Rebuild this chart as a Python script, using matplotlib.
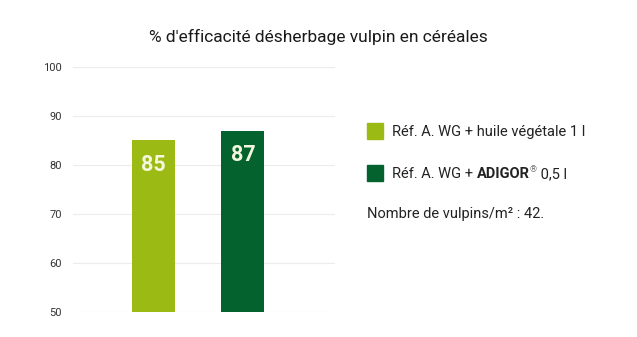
import matplotlib
matplotlib.use("Agg")
import matplotlib.pyplot as plt
from matplotlib.patches import Rectangle

plt.rcParams['font.family'] = ['Roboto', 'DejaVu Sans']

title = "% d'efficacité désherbage vulpin en céréales"
series_labels = ["Réf. A. WG + huile végétale 1 l", "Réf. A. WG + ADIGOR® 0,5 l"]
values = [85, 87]
colors = ["#9bbb14", "#04622e"]
yticks = [50, 60, 70, 80, 90, 100]
note = "Nombre de vulpins/m² : 42."

fig = plt.figure(figsize=(6.37, 3.37), dpi=100)
ax = fig.add_axes([73/637, 1 - 312/337, 262/637, 245/337])

positions = list(range(len(values)))
bars = ax.bar(positions, values, width=0.48, color=colors, zorder=2)
ax.set_xlim(-0.9, 2.03)
ax.set_ylim(50, 100)
ax.set_yticks(yticks)
ax.set_yticklabels([str(t) for t in yticks], fontsize=8, color="#333333")
ax.tick_params(axis='y', length=0, pad=8)
ax.set_xticks([])
for s in ax.spines.values():
    s.set_visible(False)
ax.grid(axis='y', color="#ececec", linewidth=0.8, zorder=0)

for b, v in zip(bars, values):
    ax.text(b.get_x() + b.get_width() / 2, v - 5, str(v), ha='center', va='center',
            fontsize=15.5, fontweight='bold', color="#f4f7dc", zorder=3)

fig.text(0.5, 1 - 37/337, title, ha='center', va='center', fontsize=12.5,
         color="#1a1a1a")

# Legend drawn by hand so part of the label can be bold
renderer = fig.canvas.get_renderer()
sq = 16
for i, (lab, col) in enumerate(zip(series_labels, colors)):
    yc = 131 + i * 42
    fig.patches.append(Rectangle((367/637, 1 - (yc + sq/2)/337), sq/637, sq/337,
                                 transform=fig.transFigure, color=col))
    x = 392 / 637
    y = 1 - (yc + 1) / 337
    if "ADIGOR" in lab:
        pieces = [("Réf. A. WG + ", 'normal', 10.5, 0, "#222222"),
                  ("ADIGOR", 'bold', 10.5, 0, "#222222"),
                  ("®", 'normal', 6.5, 4, "#777777"),
                  (" 0,5 l", 'normal', 10.5, 0, "#222222")]
    else:
        pieces = [(lab, 'normal', 10.5, 0, "#222222")]
    for txt, w, fs, dy, c in pieces:
        t = fig.text(x, y + dy/337, txt, ha='left', va='center', fontsize=fs,
                     fontweight=w, color=c)
        bb = t.get_window_extent(renderer)
        x += bb.width / fig.bbox.width

fig.text(367/637, 1 - 214/337, note, ha='left', va='center', fontsize=10.5, color="#222222")

fig.savefig("out.png", dpi=100, facecolor="white")
